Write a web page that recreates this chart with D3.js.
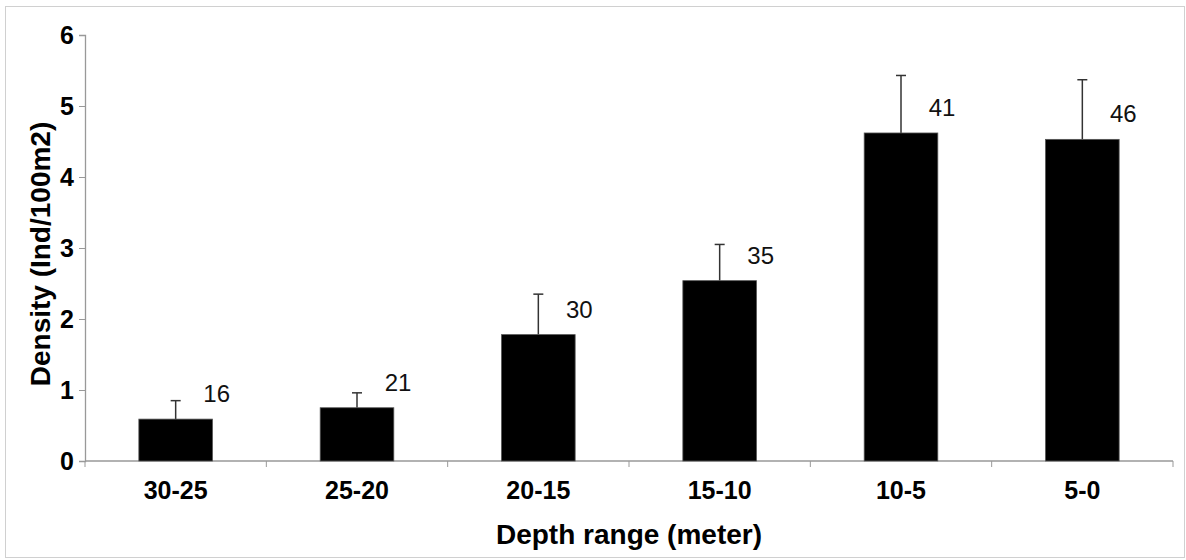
<!DOCTYPE html>
<html>
<head>
    <meta charset="utf-8">
    <title>Density by depth range</title>
    <script src="https://d3js.org/d3.v7.min.js"></script>
    <style>
        body { margin: 0; background: #fff; }
        text { font-family: "Liberation Sans", Arial, sans-serif; }
    </style>
</head>
<body>
<script>
    // values
    let depthRanges = ["30-25", "25-20", "20-15", "15-10", "10-5", "5-0"];
    let density = [0.59, 0.75, 1.78, 2.54, 4.62, 4.53];
    let errorTop = [0.85, 0.96, 2.35, 3.05, 5.43, 5.37];
    let sampleCount = [16, 21, 30, 35, 41, 46];
    let yTicks = [0, 1, 2, 3, 4, 5, 6];

    let width = 1186,
        height = 560;
    let margin = {left: 85, right: 13, top: 35, bottom: 99};

    let svg = d3.select("body")
        .append("svg")
            .attr("width", width)
            .attr("height", height);

    // outer frame
    svg.append("rect")
        .attr("x", 5.5).attr("y", 6.5)
        .attr("width", width - 7).attr("height", height - 9)
        .attr("fill", "none")
        .attr("stroke", "#d0d0d0");

    let x = d3.scaleBand()
        .domain(depthRanges)
        .range([margin.left, width - margin.right])
        .paddingInner(0.594)
        .paddingOuter(0.297);

    let y = d3.scaleLinear()
        .domain([0, 6])
        .range([height - margin.bottom, margin.top]);

    let step = x.step();
    let gap = (step - x.bandwidth()) / 2;

    // y axis
    let yAxis = svg.append("g")
        .attr("transform", `translate(${margin.left},0)`)
        .call(d3.axisLeft(y).tickValues(yTicks).tickSize(6).tickPadding(5).tickFormat(d3.format("d")));
    yAxis.select(".domain").attr("stroke", "#999").attr("stroke-width", 1.3);
    yAxis.selectAll(".tick line").attr("stroke", "#999");
    yAxis.selectAll(".tick text")
        .attr("font-size", 25)
        .attr("font-weight", "bold")
        .attr("fill", "#000")
        .attr("font-family", "Liberation Sans, Arial, sans-serif");

    // x axis line and ticks between categories
    let baseY = y(0);
    svg.append("line")
        .attr("x1", margin.left).attr("x2", width - margin.right)
        .attr("y1", baseY).attr("y2", baseY)
        .attr("stroke", "#999").attr("stroke-width", 1.3);

    let edges = depthRanges.map(d => x(d) - gap).concat([x(depthRanges[depthRanges.length - 1]) + x.bandwidth() + gap]);
    svg.selectAll("line.xtick")
        .data(edges)
        .join("line")
            .attr("class", "xtick")
            .attr("x1", d => d).attr("x2", d => d)
            .attr("y1", baseY).attr("y2", baseY + 6)
            .attr("stroke", "#999");

    svg.selectAll("text.xlabel")
        .data(depthRanges)
        .join("text")
            .attr("class", "xlabel")
            .attr("x", d => x(d) + x.bandwidth() / 2)
            .attr("y", 499)
            .attr("text-anchor", "middle")
            .attr("font-size", 25)
            .attr("font-weight", "bold")
            .text(d => d);

    // error bars (upper only)
    let eb = svg.append("g")
        .attr("stroke", "#333")
        .attr("stroke-width", 1.5);
    eb.selectAll("line.stem")
        .data(depthRanges)
        .join("line")
            .attr("class", "stem")
            .attr("x1", d => x(d) + x.bandwidth() / 2)
            .attr("x2", d => x(d) + x.bandwidth() / 2)
            .attr("y1", (d, i) => y(density[i]))
            .attr("y2", (d, i) => y(errorTop[i]));
    eb.selectAll("line.cap")
        .data(depthRanges)
        .join("line")
            .attr("class", "cap")
            .attr("x1", d => x(d) + x.bandwidth() / 2 - 5)
            .attr("x2", d => x(d) + x.bandwidth() / 2 + 5)
            .attr("y1", (d, i) => y(errorTop[i]))
            .attr("y2", (d, i) => y(errorTop[i]));

    // bars
    svg.selectAll("rect.bar")
        .data(depthRanges)
        .join("rect")
            .attr("class", "bar")
            .attr("x", d => x(d))
            .attr("y", (d, i) => y(density[i]))
            .attr("width", x.bandwidth())
            .attr("height", (d, i) => baseY - y(density[i]))
            .attr("fill", "#000")
            .attr("stroke", "#555")
            .attr("stroke-width", 0.8);

    // sample counts
    svg.selectAll("text.count")
        .data(depthRanges)
        .join("text")
            .attr("class", "count")
            .attr("x", d => x(d) + x.bandwidth() / 2 + 41)
            .attr("y", (d, i) => y(density[i]) - 17)
            .attr("text-anchor", "middle")
            .attr("font-size", 24)
            .attr("fill", "#111")
            .text((d, i) => sampleCount[i]);

    // axis titles
    svg.append("text")
        .attr("x", (margin.left + width - margin.right) / 2)
        .attr("y", 544)
        .attr("text-anchor", "middle")
        .attr("font-size", 28)
        .attr("font-weight", "bold")
        .text("Depth range (meter)");

    svg.append("text")
        .attr("transform", "translate(50,254) rotate(-90)")
        .attr("text-anchor", "middle")
        .attr("font-size", 28)
        .attr("font-weight", "bold")
        .text("Density (Ind/100m2)");
</script>
</body>
</html>
